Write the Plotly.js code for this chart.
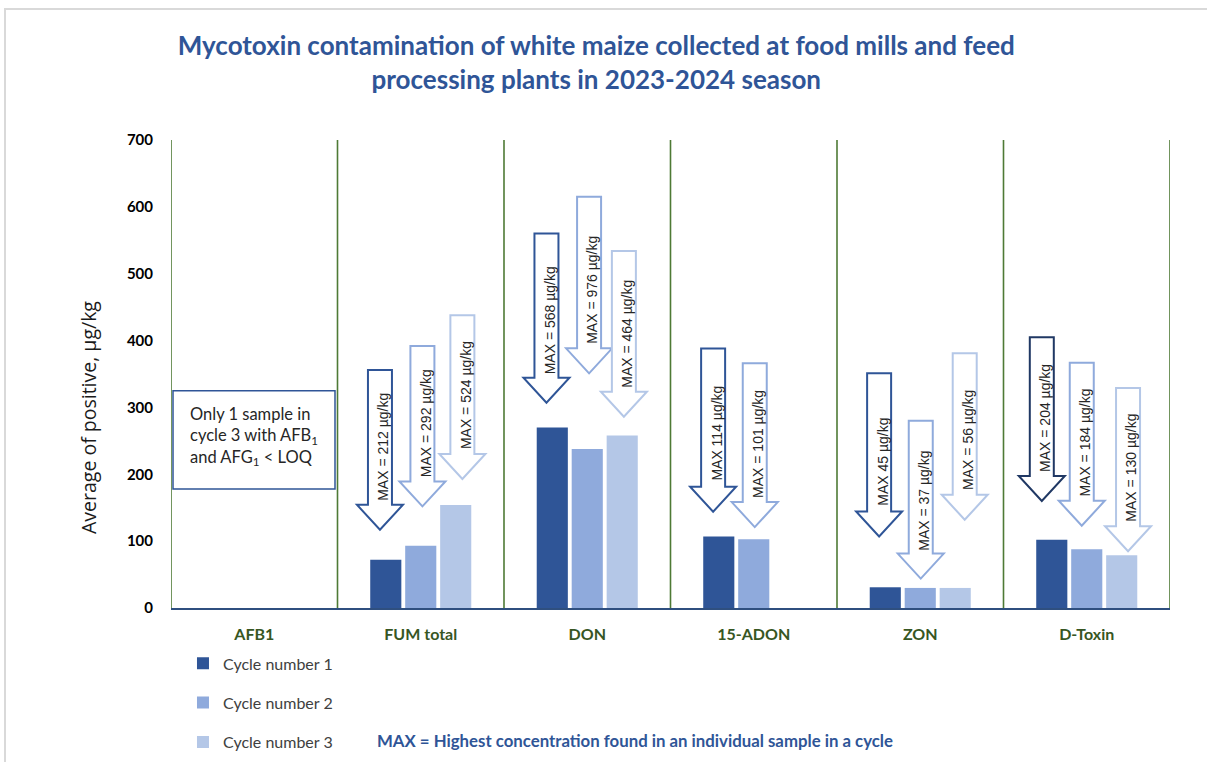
<!DOCTYPE html>
<html>
<head>
<meta charset="utf-8">
<script src="https://cdn.plot.ly/plotly-3.0.1.min.js"></script>
<style>
  body { margin: 0; background: #fff; }
  #chart { position: absolute; left: 0; top: 0; width: 1207px; height: 762px; }
  #frame { position: absolute; left: 4px; top: 8px; width: 1400px; height: 900px;
           border-left: 2px solid #d9d9d9; border-top: 2px solid #d9d9d9;
           pointer-events: none; z-index: 10; }
</style>
</head>
<body>
<div id="chart"></div>
<div id="frame"></div>
<script>
// ---- data ----
const categories = ["AFB1", "FUM total", "DON", "15-ADON", "ZON", "D-Toxin"];
const seriesNames = ["Cycle number 1", "Cycle number 2", "Cycle number 3"];
const cycle1 = [null, 72, 270, 107, 31, 102];
const cycle2 = [null, 93, 238, 103, 30, 88];
const cycle3 = [null, 154, 258, null, 30, 79];

// MAX labels (category index, cycle index, text)
const maxCategory = [1, 1, 1, 2, 2, 2, 3, 3, 4, 4, 4, 5, 5, 5];
const maxCycle    = [0, 1, 2, 0, 1, 2, 0, 1, 0, 1, 2, 0, 1, 2];
const maxLabels = [
  "MAX = 212 µg/kg", "MAX = 292 µg/kg", "MAX = 524 µg/kg",
  "MAX = 568 µg/kg", "MAX = 976 µg/kg", "MAX = 464 µg/kg",
  "MAX 114 µg/kg", "MAX = 101 µg/kg",
  "MAX 45 µg/kg", "MAX = 37 µg/kg", "MAX = 56 µg/kg",
  "MAX = 204 µg/kg", "MAX = 184 µg/kg", "MAX = 130 µg/kg"
];

// ---- arrow placement (positions, not data) ----
const arrowTop  = [356, 392, 438, 560, 615, 534, 388, 366, 351, 280, 381, 405, 367, 329];
const arrowTip  = [117, 152, 193, 307, 351, 286, 144, 121, 107, 44, 132, 160, 123, 85];
const arrowTextY = [241, 277, 319, 431, 476, 410, 261, 245, 219, 160, 251, 284, 247, 210];
const arrowDx   = [-0.245, 0.01, 0.25, -0.245, 0.011, 0.22, -0.244, 0.006, -0.247, 0.003, 0.267, -0.27, -0.03, 0.248];

const colors = ["#2F5597", "#8FAADC", "#B4C7E7"];
const arrowColors = ["#2F5597", "#8FAADC", "#B4C7E7"];

const pxPerCat = 166.5, pxPerUnit = 468 / 700;
const shaftHalf = 12 / pxPerCat, headHalf = 23 / pxPerCat, headH = 25 / pxPerUnit;

const values = [cycle1, cycle2, cycle3];
const traces = values.map((v, i) => ({
  type: "bar", x: categories, y: v, name: seriesNames[i],
  marker: { color: colors[i] }, legendgroup: "g" + i,
  hoverinfo: "x+y+name"
}));

const shapes = [];
const annotations = [];

// category dividers
for (let k = 0; k <= categories.length; k++) {
  shapes.push({ type: "line", xref: "x2", yref: "y", x0: k - 0.5, x1: k - 0.5, y0: 0, y1: 700,
    line: { color: "#4E7A35", width: 1.6 }, layer: "below" });
}

// arrows
maxLabels.forEach((lbl, i) => {
  const cx = maxCategory[i] + arrowDx[i];
  const top = arrowTop[i], tip = arrowTip[i], base = tip + headH;
  const c = (maxCategory[i] === 5 && maxCycle[i] === 0) ? "#203864" : arrowColors[maxCycle[i]];
  const p = `M${cx - shaftHalf},${top} L${cx + shaftHalf},${top} L${cx + shaftHalf},${base} ` +
            `L${cx + headHalf},${base} L${cx},${tip} L${cx - headHalf},${base} L${cx - shaftHalf},${base} Z`;
  shapes.push({ type: "path", xref: "x2", yref: "y", path: p,
    line: { color: c, width: 2 }, fillcolor: "rgba(255,255,255,1)", layer: "above" });
  annotations.push({ xref: "x2", yref: "y", x: cx, y: arrowTextY[i], text: lbl,
    textangle: -90, showarrow: false, xshift: 3,
    font: { family: "Liberation Sans, Arial, sans-serif", size: 14, color: "#262626" } });
});

// AFB1 note box
shapes.push({ type: "rect", xref: "x2", yref: "y", x0: -0.488, x1: 0.485, y0: 178, y1: 325,
  line: { color: "#2F5597", width: 1.5 }, fillcolor: "white", layer: "above" });
annotations.push({ xref: "x2", yref: "y", x: -0.398, y: 257, xanchor: "left", align: "left",
  showarrow: false,
  text: "Only 1 sample in<br>cycle 3 with AFB<sub>1</sub><br>and AFG<sub>1</sub> &lt; LOQ",
  font: { family: "Lato, sans-serif", size: 16.5, color: "#262626" } });

// y-axis title (placed as in the reference)
annotations.push({ xref: "paper", yref: "paper", x: (88 - 171) / 999, y: (608 - 418) / 468,
  xanchor: "center", yanchor: "middle", textangle: -90, showarrow: false,
  text: "Average of positive, µg/kg",
  font: { family: "Open Sans, sans-serif", size: 19.5, color: "#1a1a1a" } });

// footnote
annotations.push({ xref: "paper", yref: "paper", x: 0.4645, y: -0.284, xanchor: "center", yanchor: "middle",
  showarrow: false,
  text: "<b>MAX = Highest concentration found in an individual sample in a cycle</b>",
  font: { family: "Lato, sans-serif", size: 16.8, color: "#2F5597" } });

const layout = {
  width: 1207, height: 762,
  margin: { l: 171, r: 37, t: 140, b: 154, autoexpand: false },
  paper_bgcolor: "white", plot_bgcolor: "white",
  title: {
    text: "<b>Mycotoxin contamination of white maize collected at food mills and feed<br>processing plants in 2023-2024 season</b>",
    xref: "container", yref: "container", x: 0.494, xanchor: "center",
    y: 0.928, yanchor: "top",
    font: { family: "Lato, sans-serif", size: 26, color: "#2F5597" }
  },
  barmode: "group", bargap: 0.37, bargroupgap: 0.11,
  xaxis: {
    type: "category", range: [-0.5, 5.5], showgrid: false, zeroline: false,
    showline: true, linecolor: "#2F4F7F", linewidth: 2,
    ticks: "outside", ticklen: 11, tickcolor: "rgba(0,0,0,0)",
    tickfont: { family: "Lato, sans-serif", size: 16, color: "#375623", weight: "bold" },
    fixedrange: true, automargin: false
  },
  xaxis2: { overlaying: "x", range: [-0.5, 5.5], visible: false, fixedrange: true },
  yaxis: {
    range: [0, 700], tickvals: [0, 100, 200, 300, 400, 500, 600, 700],
    showgrid: false, zeroline: false, showline: false,
    ticks: "outside", ticklen: 14, tickcolor: "rgba(0,0,0,0)",
    tickfont: { family: "Lato, sans-serif", size: 15, color: "#000000", weight: "bold" },
    fixedrange: true, automargin: false
  },
  showlegend: true,
  legend: {
    x: 0.012, y: -0.082, xanchor: "left", yanchor: "top", orientation: "v",
    tracegroupgap: 15.5, traceorder: "grouped",
    font: { family: "Lato, sans-serif", size: 16, color: "#404040" },
    bgcolor: "rgba(0,0,0,0)"
  },
  shapes: shapes,
  annotations: annotations
};

Plotly.newPlot("chart", traces, layout, { displayModeBar: false, staticPlot: true });
</script>
</body>
</html>
